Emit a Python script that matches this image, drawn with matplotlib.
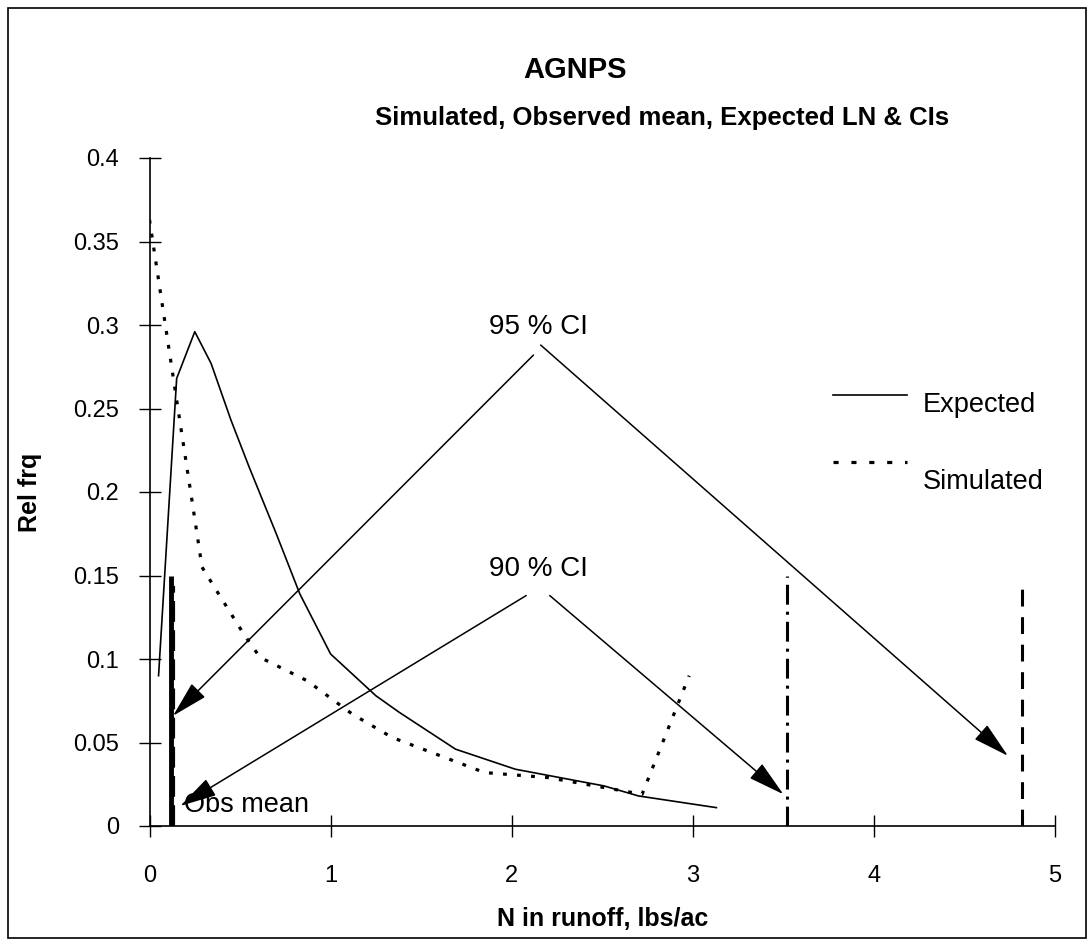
import matplotlib
matplotlib.use("Agg")
import matplotlib.pyplot as plt
from matplotlib.patches import Rectangle

plt.rcParams['font.family'] = ['Liberation Sans', 'DejaVu Sans']

# expected lognormal relative frequency
exp_x = [0.05, 0.15, 0.25, 0.34, 0.45, 0.55, 0.70, 0.83, 1.00, 1.25, 1.38, 1.69, 2.02, 2.51, 2.70, 3.13]
exp_y = [0.090, 0.268, 0.296, 0.277, 0.243, 0.215, 0.175, 0.139, 0.103, 0.078, 0.068, 0.046, 0.034, 0.024, 0.018, 0.011]

# simulated relative frequency
sim_x = [0.0, 0.15, 0.24, 0.29, 0.37, 0.52, 0.61, 0.87, 1.12, 1.34, 1.85, 2.20, 2.72, 2.98]
sim_y = [0.363, 0.255, 0.191, 0.155, 0.141, 0.115, 0.101, 0.087, 0.067, 0.053, 0.032, 0.029, 0.019, 0.090]

obs_mean = 0.117
obs_height = 0.15
ci95 = [0.128, 4.82]
ci95_height = 0.144
ci90 = [0.128, 3.52]
ci90_height = 0.150

# label, label pos, left arrow (tail, tip), right arrow (tail, tip)
ci_labels = ['95 % CI', '90 % CI']
ci_label_pos = [(2.15, 0.299), (2.15, 0.154)]
ci_left = [((2.12, 0.282), (0.13, 0.066)), ((2.08, 0.138), (0.17, 0.012))]
ci_right = [((2.16, 0.288), (4.74, 0.042)), ((2.21, 0.138), (3.50, 0.019))]

SIM_DOTS = (0, (1.2, 3.2))

fig = plt.figure(figsize=(10.89, 9.4), dpi=100)
ax = fig.add_axes([149.5 / 1089, 114 / 940, 905.5 / 1089, 668 / 940])

ax.plot(exp_x, exp_y, color='black', lw=1.2)
ax.plot(sim_x, sim_y, color='black', lw=2.3, linestyle=SIM_DOTS)

# observed mean and CI limits
ax.vlines(obs_mean, 0, obs_height, color='black', lw=3.5)
ax.vlines(ci95[0], 0, ci95_height, color='black', lw=3, linestyles=(0, (5, 2)))
ax.vlines(ci95[1], 0, ci95_height, color='black', lw=2.2, linestyles=(0, (5.5, 3.5)))
ax.vlines(ci90[1], 0, ci90_height, color='black', lw=2.2, linestyles=(0, (6.5, 2.3, 1, 2.3)))

for lab, pos, lft, rgt in zip(ci_labels, ci_label_pos, ci_left, ci_right):
    ax.text(pos[0], pos[1], lab, ha='center', va='center', fontsize=20)
    for tail, tip in (lft, rgt):
        ax.annotate('', xy=tip, xytext=tail,
                    arrowprops=dict(arrowstyle='-|>,head_length=1.15,head_width=0.3',
                                    color='black', lw=1.1, shrinkA=0, shrinkB=0,
                                    mutation_scale=20))

ax.text(0.19, 0.0125, 'Obs mean', ha='left', va='center', fontsize=19.5)

# legend drawn by hand: sample line with the label offset below it
ax.plot([0.755, 0.837], [0.645, 0.645], color='black', lw=1.2, transform=ax.transAxes)
ax.text(0.854, 0.630, 'Expected', ha='left', va='center', fontsize=19.5, transform=ax.transAxes)
ax.plot([0.755, 0.837], [0.545, 0.545], color='black', lw=2.3,
        linestyle=(0, (1.6, 4)), transform=ax.transAxes)
ax.text(0.854, 0.515, 'Simulated', ha='left', va='center', fontsize=19.5, transform=ax.transAxes)

ax.set_xlim(0, 5)
ax.set_ylim(0, 0.4)
ax.set_xticks([0, 1, 2, 3, 4, 5])
ax.set_yticks([0, 0.05, 0.1, 0.15, 0.2, 0.25, 0.3, 0.35, 0.4])
ax.set_yticklabels(['0', '0.05', '0.1', '0.15', '0.2', '0.25', '0.3', '0.35', '0.4'])
ax.tick_params(direction='inout', length=16, width=1, labelsize=17)
ax.tick_params(axis='y', pad=14)
ax.tick_params(axis='x', pad=20)
ax.spines['top'].set_visible(False)
ax.spines['right'].set_visible(False)
ax.spines['left'].set_linewidth(1.2)
ax.spines['bottom'].set_linewidth(1.2)

ax.set_xlabel('N in runoff, lbs/ac', fontsize=18, fontweight='bold')
ax.xaxis.set_label_coords(0.5, -0.122)
ax.set_ylabel('Rel frq', fontsize=18, fontweight='bold')
ax.yaxis.set_label_coords(-0.119, 0.5)

ax.text(0.47, 1.132, 'AGNPS', transform=ax.transAxes, ha='center', va='center',
        fontsize=21, fontweight='bold')
ax.text(0.249, 1.06, 'Simulated, Observed mean, Expected LN & CIs', transform=ax.transAxes,
        ha='left', va='center', fontsize=18.5, fontweight='bold')

fig.patches.append(Rectangle((8 / 1089, 2 / 940), 1078 / 1089, 930 / 940, transform=fig.transFigure,
                             fill=False, edgecolor='black', lw=1.2))

fig.savefig('out.png', dpi=100)
